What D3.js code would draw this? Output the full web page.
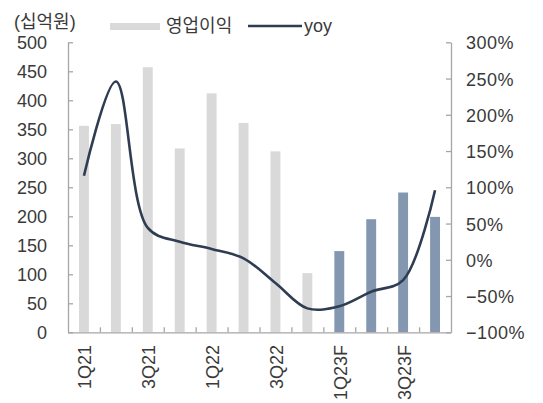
<!DOCTYPE html>
<html>
<head>
<meta charset="utf-8">
<script src="https://cdn.jsdelivr.net/npm/d3@7"></script>
<style>
  body { margin: 0; background: #fff; }
  svg { display: block; font-family: "Liberation Sans", Arial, "Noto Sans CJK KR", sans-serif; }
  .axis text { font-size: 18px; fill: #3a3a3a; }
  .axis path, .axis line { stroke: #a6a6a6; stroke-width: 1.3; }
</style>
</head>
<body>
<div id="chart"></div>
<script>
// quarters, F = forecast
let categories = ["1Q21", "2Q21", "3Q21", "4Q21", "1Q22", "2Q22", "3Q22", "4Q22", "1Q23F", "2Q23F", "3Q23F", "4Q23F"];
let shownLabels = ["1Q21", "3Q21", "1Q22", "3Q22", "1Q23F", "3Q23F"];
let profit = [356, 359, 457, 317, 412, 361, 312, 102, 140, 195, 241, 199];   // 십억원
let yoy = [116, 246, 44, 25, 15, 2, -32, -67, -64, -44, -28, 96];            // %
let leftTicks = [0, 50, 100, 150, 200, 250, 300, 350, 400, 450, 500];
let rightTicks = [-100, -50, 0, 50, 100, 150, 200, 250, 300];

let width = 543;
let height = 403;
let plotLeft = 68, plotRight = 451, plotTop = 42.3, plotBottom = 332.3;

let svg = d3.select("#chart").append("svg")
  .attr("width", width)
  .attr("height", height);

let xBand = d3.scaleBand()
  .domain(categories)
  .range([plotLeft, plotRight])
  .paddingInner(0.69)
  .paddingOuter(0.345);
let xIdx = d3.scaleLinear()
  .domain([0, categories.length])
  .range([plotLeft, plotRight]);
let yLeft = d3.scaleLinear()
  .domain([0, 500])
  .range([plotBottom, plotTop]);
let yRight = d3.scaleLinear()
  .domain([-100, 300])
  .range([plotBottom, plotTop]);

// bars
svg.selectAll("rect.bar").data(categories)
  .enter().append("rect")
  .classed("bar", true)
  .attr("x", (d) => xBand(d))
  .attr("width", xBand.bandwidth())
  .attr("y", (d, i) => yLeft(profit[i]))
  .attr("height", (d, i) => yLeft(0) - yLeft(profit[i]))
  .attr("fill", (d) => d.endsWith("F") ? "#8497b0" : "#d9d9d9");

// axes
let gLeft = svg.append("g").classed("axis", true)
  .attr("transform", `translate(${plotLeft}, 0)`)
  .call(d3.axisLeft(yLeft).tickValues(leftTicks).tickSizeInner(-5).tickSizeOuter(0).tickPadding(21));
gLeft.selectAll("text").attr("dy", "0.36em");

let gRight = svg.append("g").classed("axis", true)
  .attr("transform", `translate(${plotRight}, 0)`)
  .call(d3.axisRight(yRight).tickValues(rightTicks).tickSizeInner(-5).tickSizeOuter(0).tickPadding(15)
    .tickFormat((d) => (d < 0 ? "\u2212" + Math.abs(d) : d) + "%"));
gRight.selectAll("text").attr("dy", "0.36em").style("letter-spacing", "0.5px");

let gBottom = svg.append("g").classed("axis", true)
  .attr("transform", `translate(0, ${plotBottom})`)
  .call(d3.axisBottom(xIdx).tickValues(d3.range(1, categories.length)).tickSizeInner(-5).tickSizeOuter(0).tickFormat(""));

svg.selectAll("text.xlabel").data(shownLabels)
  .enter().append("text")
  .classed("xlabel", true)
  .attr("transform", (d) => `translate(${xBand(d) + xBand.bandwidth() / 2 + 7.5}, 345) rotate(-90)`)
  .attr("text-anchor", "end")
  .style("font-size", "18px")
  .style("fill", "#3a3a3a")
  .text((d) => d);

// yoy line
let line = d3.line()
  .x((d, i) => xBand(categories[i]) + xBand.bandwidth() / 2)
  .y((d) => yRight(d))
  .curve(d3.curveCatmullRom.alpha(0.5));
svg.append("path")
  .datum(yoy)
  .attr("d", line)
  .attr("fill", "none")
  .attr("stroke", "#2f3d52")
  .attr("stroke-width", 2.6);

// unit + legend
svg.append("text")
  .attr("x", 14).attr("y", 28)
  .style("font-size", "18px").style("fill", "#3a3a3a")
  .text("(십억원)");
svg.append("rect")
  .attr("x", 110).attr("y", 23).attr("width", 50).attr("height", 7)
  .attr("fill", "#d9d9d9");
svg.append("text")
  .attr("x", 166).attr("y", 32)
  .style("font-size", "18px").style("fill", "#3a3a3a")
  .text("영업이익");
svg.append("line")
  .attr("x1", 248).attr("x2", 302).attr("y1", 26).attr("y2", 26)
  .attr("stroke", "#2f3d52").attr("stroke-width", 2.4);
svg.append("text")
  .attr("x", 304).attr("y", 32)
  .style("font-size", "18px").style("fill", "#3a3a3a")
  .text("yoy");
</script>
</body>
</html>
